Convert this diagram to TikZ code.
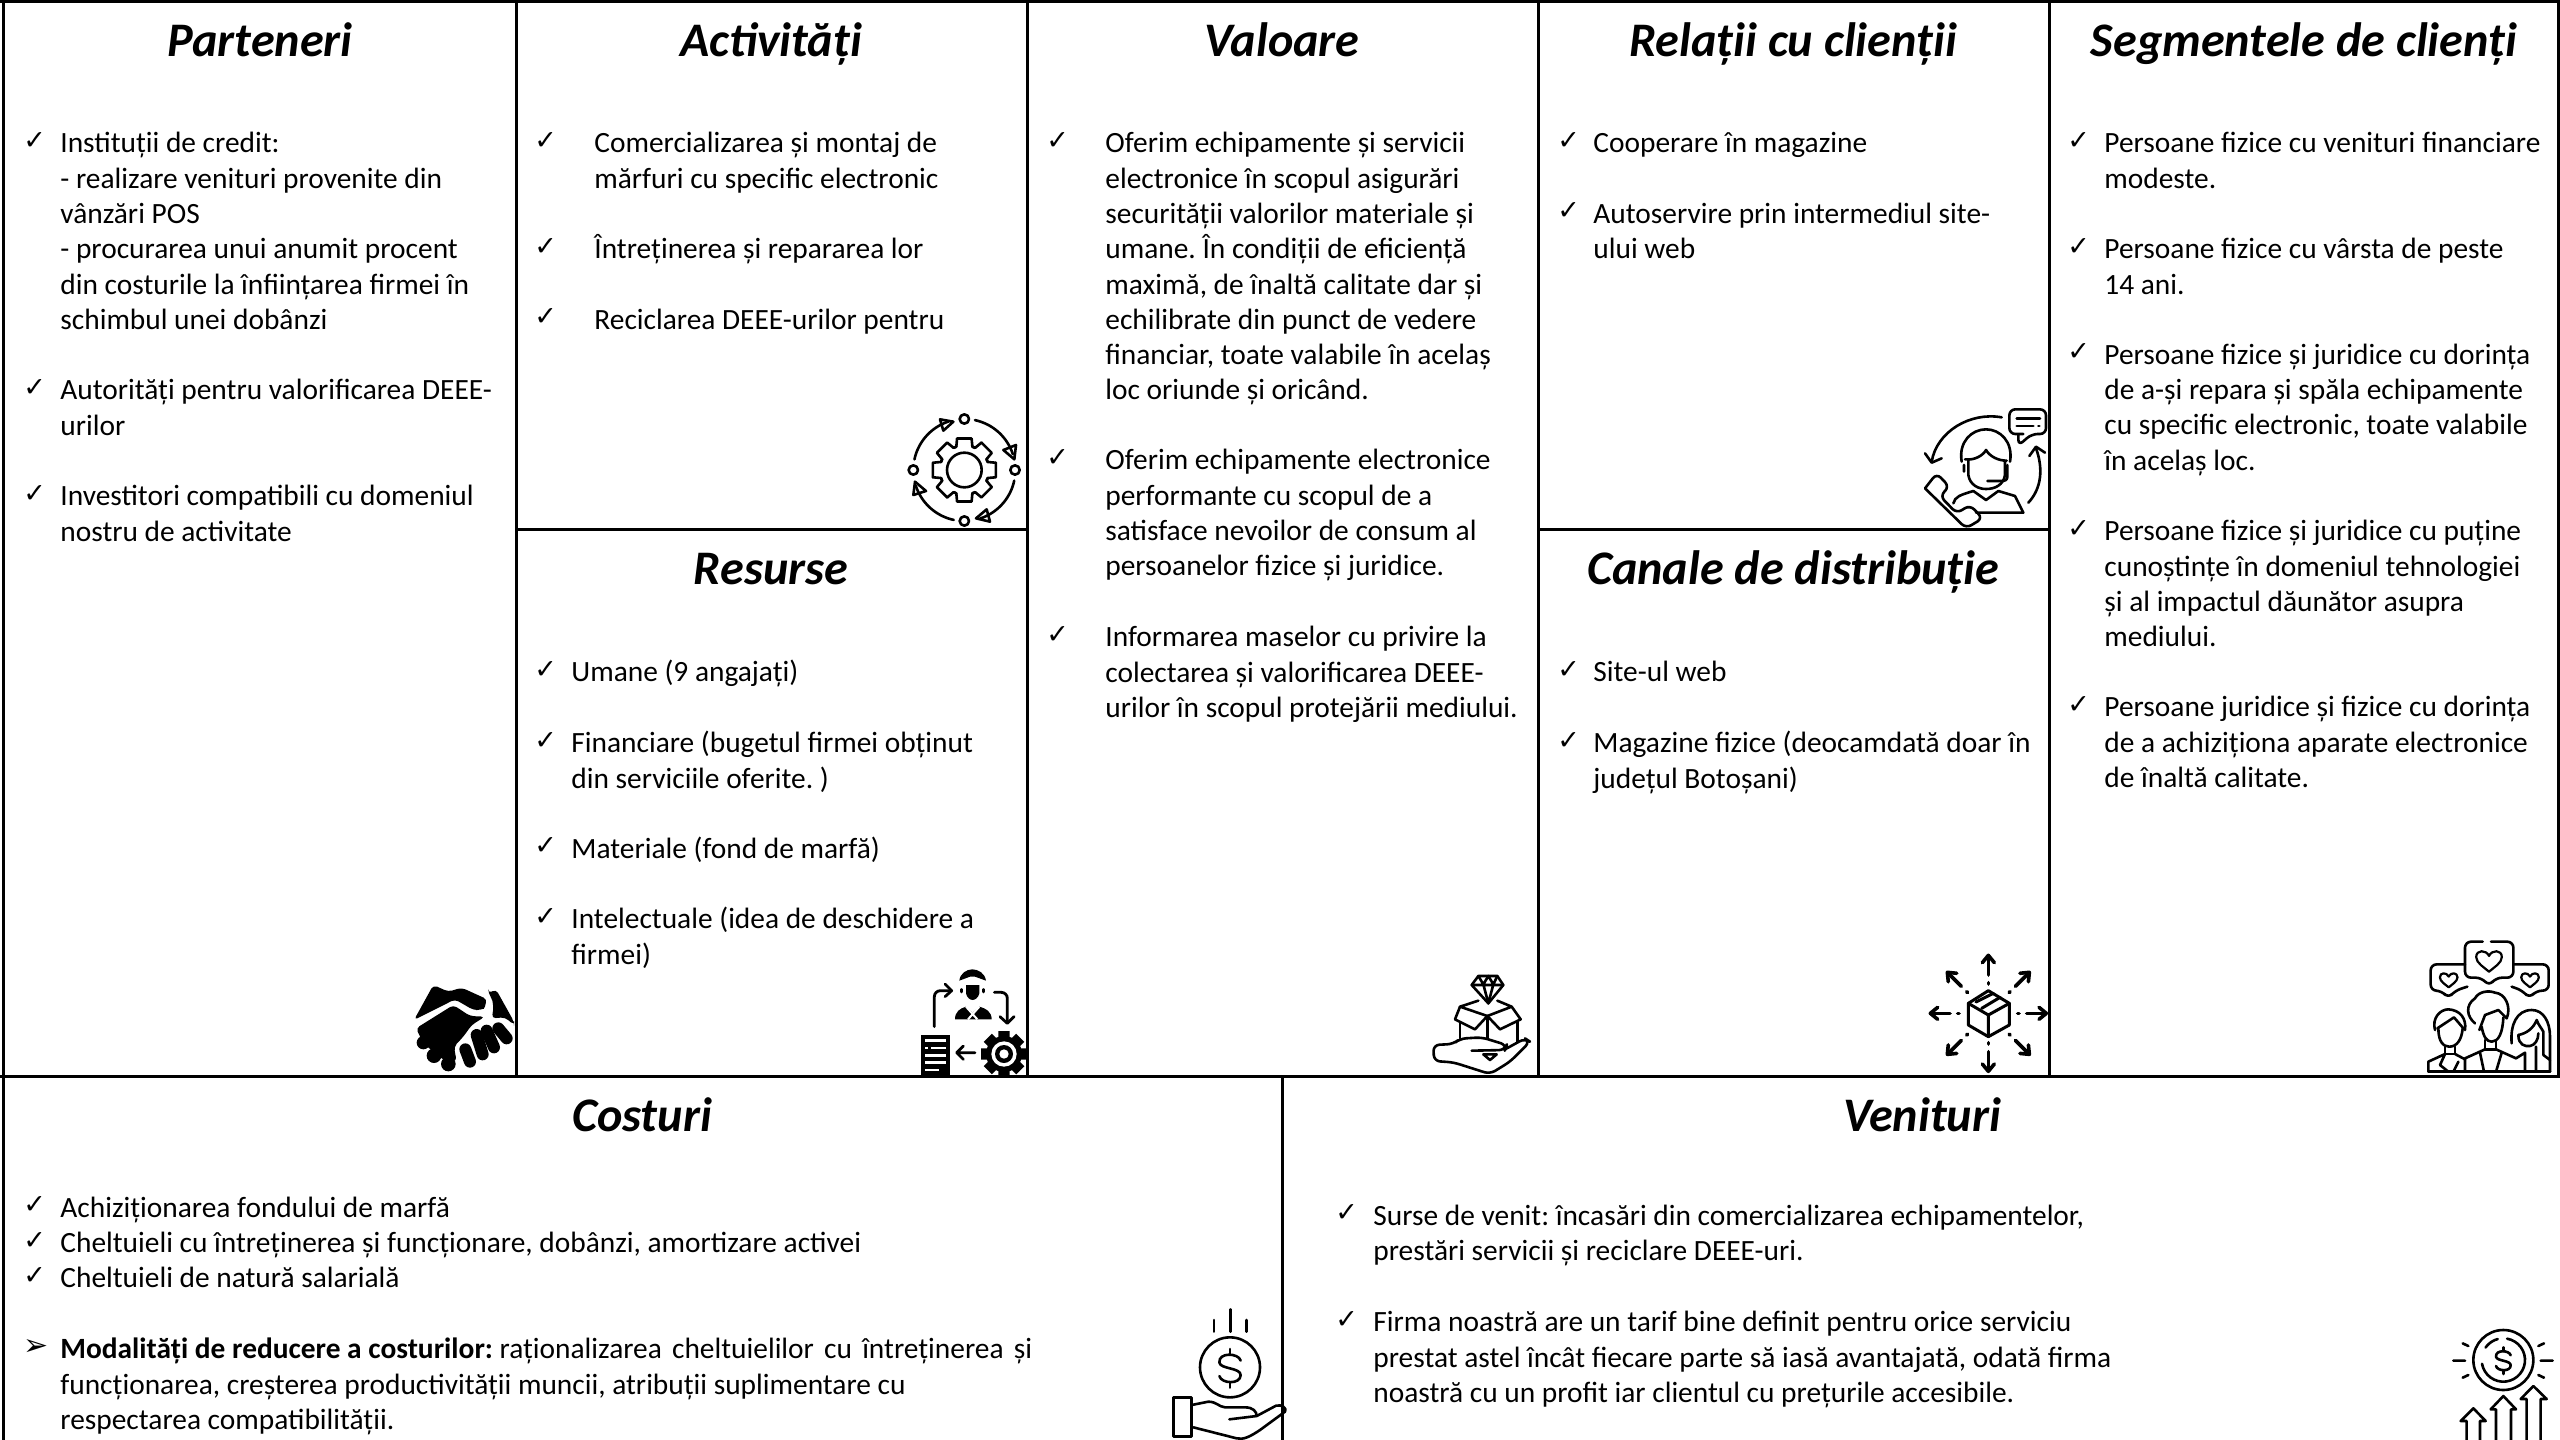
\documentclass[tikz,border=0pt]{standalone}
\usepackage{fontspec}
\setmainfont{Carlito}
\newfontfamily\symfont{DejaVu Sans}
\tikzset{
  px/.style={x=0.5pt,y=-0.5pt},
  grid line/.style={line width=1.5pt,draw=black},
  title/.style={inner sep=0pt,anchor=base,font=\fontsize{24.1}{29}\selectfont\bfseries\itshape},
  body/.style={inner sep=0pt,anchor=north west,align=left,font=\fontsize{14.7}{17.64}\selectfont\frenchspacing},
  chk/.style={inner sep=0pt,anchor=base west,font=\fontsize{13.5}{14}\symfont},
  arrowmark/.style={inner sep=0pt,anchor=base west,font=\fontsize{15}{16}\symfont},
  zoomat/.style 2 args={shift={(#1,#2)},x=0.16667pt,y=-0.16667pt},
  ic/.style={line width=1.3pt,line cap=round,line join=round,draw=black},
  icthin/.style={line width=1.1pt,line cap=round,line join=round,draw=black},
  icthick/.style={line width=1.8pt,line cap=round,line join=round,draw=black},
  finger/.style={line width=6pt,line cap=round},
}
% one bullet: name, x of the mark, x of the text, baseline of first line, lines
\newcommand\bul[6][chk]{%
  \node[#1] (#2m) at (#3-1,#5-4) {\symfont ✓};
  \node[body] (#2t) at (#4,#5-28.5) {\rule{0pt}{14pt}#6};
}
\newcommand\heart[3]{% cx cy size
  \draw[icthin] (#1,#2+#3) .. controls (#1-#3*0.4,#2+#3*0.65) and (#1-#3*1.1,#2+#3*0.25) .. (#1-#3*1.1,#2-#3*0.25)
   .. controls (#1-#3*1.1,#2-#3*0.9) and (#1-#3*0.25,#2-#3*0.9) .. (#1,#2-#3*0.35)
   .. controls (#1+#3*0.25,#2-#3*0.9) and (#1+#3*1.1,#2-#3*0.9) .. (#1+#3*1.1,#2-#3*0.25)
   .. controls (#1+#3*1.1,#2+#3*0.25) and (#1+#3*0.4,#2+#3*0.65) .. (#1,#2+#3) -- cycle;
}
\newcommand\ringarc[5]{\draw[ic] plot[domain=#4:#5,samples=24] ({#1+#3*cos(\x)},{#2+#3*sin(\x)});}
\newcommand\dollar[3]{% cx cy size
  \draw[ic] (#1+#3*0.55,#2-#3*0.4) .. controls (#1+#3*0.45,#2-#3*0.8) and (#1-#3*0.6,#2-#3*0.85) .. (#1-#3*0.55,#2-#3*0.3)
   .. controls (#1-#3*0.5,#2+#3*0.05) and (#1+#3*0.55,#2-#3*0.05) .. (#1+#3*0.55,#2+#3*0.35)
   .. controls (#1+#3*0.55,#2+#3*0.85) and (#1-#3*0.45,#2+#3*0.8) .. (#1-#3*0.55,#2+#3*0.4);
  \draw[ic] (#1,#2-#3) -- (#1,#2-#3*0.72) (#1,#2+#3*0.72) -- (#1,#2+#3);
}
\begin{document}
\begin{tikzpicture}[px]
\useasboundingbox (0,0) rectangle (2560,1440);
\fill[white] (0,0) rectangle (2560,1440);
% grid
\draw[grid line] (3,0) -- (3,1076);
\draw[grid line] (0,1) -- (2560,1);
\draw[grid line] (516,0) -- (516,1076);
\draw[grid line] (1027,0) -- (1027,1076);
\draw[grid line] (1538,0) -- (1538,1076);
\draw[grid line] (2049,0) -- (2049,1076);
\draw[grid line] (2558,0) -- (2558,1076);
\draw[grid line] (516,529) -- (1027,529);
\draw[grid line] (1538,529) -- (2049,529);
\draw[grid line] (0,1076) -- (2560,1076);
\draw[grid line] (3,1076) -- (3,1440);
\draw[grid line] (1282,1076) -- (1282,1440);
% titles
\node[title] (t1) at (260,56) {Parteneri};
\node[title] (t2) at (771,56) {Activități};
\node[title] (t3) at (1282,56) {Valoare};
\node[title] (t4) at (1793,56) {Relații cu clienții};
\node[title] (t5) at (2304,56) {Segmentele de clienți};
\node[title] (t6) at (771,584) {Resurse};
\node[title] (t7) at (1793,584) {Canale de distribuție};
\node[title] (t8) at (642,1131) {Costuri};
\node[title] (t9) at (1922,1131) {Venituri};
% Parteneri
\bul{pa}{24}{60}{153}{Instituții de credit:\\- realizare venituri provenite din\\vânzări POS\\- procurarea unui anumit procent\\din costurile la înființarea firmei în\\schimbul unei dobânzi}
\bul{pb}{24}{60}{400}{Autorități pentru valorificarea DEEE-\\urilor}
\bul{pc}{24}{60}{506}{Investitori compatibili cu domeniul\\nostru de activitate}
% Activitati
\bul{aa}{535}{594}{153}{Comercializarea și montaj de\\mărfuri cu specific electronic}
\bul{ab}{535}{594}{259}{Întreținerea și repararea lor}
\bul{ac}{535}{594}{329.5}{Reciclarea DEEE-urilor pentru}
% Resurse
\bul{ra}{535}{571}{682}{Umane (9 angajați)}
\bul{rb}{535}{571}{753}{Financiare (bugetul firmei obținut\\din serviciile oferite. )}
\bul{rc}{535}{571}{858.5}{Materiale (fond de marfă)}
\bul{rd}{535}{571}{929}{Intelectuale (idea de deschidere a\\firmei)}
% Valoare
\bul{va}{1047}{1105}{153}{Oferim echipamente și servicii\\electronice în scopul asigurări\\securității valorilor materiale și\\umane. În condiții de eficiență\\maximă, de înaltă calitate dar și\\echilibrate din punct de vedere\\financiar, toate valabile în acelaș\\loc oriunde și oricând.}
\bul{vb}{1047}{1105}{470}{Oferim echipamente electronice\\performante cu scopul de a\\satisface nevoilor de consum al\\persoanelor fizice și juridice.}
\bul{vc}{1047}{1105}{647}{Informarea maselor cu privire la\\colectarea și valorificarea DEEE-\\urilor în scopul protejării mediului.}
% Relatii
\bul{la}{1558}{1593}{153}{Cooperare în magazine}
\bul{lb}{1558}{1593}{223.5}{Autoservire prin intermediul site-\\ului web}
% Canale
\bul{ca}{1558}{1593}{682}{Site-ul web}
\bul{cb}{1558}{1593}{753}{Magazine fizice (deocamdată doar în\\județul Botoșani)}
% Segmente
\bul{sa}{2068}{2104}{153}{Persoane fizice cu venituri financiare\\modeste.}
\bul{sb}{2068}{2104}{259}{Persoane fizice cu vârsta de peste\\14 ani.}
\bul{sc}{2068}{2104}{364.5}{Persoane fizice și juridice cu dorința\\de a-și repara și spăla echipamente\\cu specific electronic, toate valabile\\în acelaș loc.}
\bul{sd}{2068}{2104}{541}{Persoane fizice și juridice cu puține\\cunoștințe în domeniul tehnologiei\\și al impactul dăunător asupra\\mediului.}
\bul{se}{2068}{2104}{717}{Persoane juridice și fizice cu dorința\\de a achiziționa aparate electronice\\de înaltă calitate.}
% Costuri
\bul{oa}{24}{60}{1217.5}{Achiziționarea fondului de marfă}
\bul{ob}{24}{60}{1253}{Cheltuieli cu întreținerea și funcționare, dobânzi, amortizare activei}
\bul{oc}{24}{60}{1288}{Cheltuieli de natură salarială}
\node[arrowmark] (odm) at (23,1355) {\symfont ➢};
\node[body] (odt) at (60,1330.5) {\rule{0pt}{14pt}\textbf{Modalități de reducere a costurilor:} {\spaceskip=5.1pt raționalizarea cheltuielilor cu întreținerea și}\\funcționarea, creșterea productivității muncii, atribuții suplimentare cu\\respectarea compatibilității.};
% Venituri
\bul{ea}{1336}{1373}{1225.5}{Surse de venit: încasări din comercializarea echipamentelor,\\prestări servicii și reciclare DEEE-uri.}
\bul{eb}{1336}{1373}{1332}{Firma noastră are un tarif bine definit pentru orice serviciu\\prestat astel încât fiecare parte să iasă avantajată, odată firma\\noastră cu un profit iar clientul cu prețurile accesibile.}

% --- icon: gear cycle (Activitati)
\begin{scope}[zoomat={880}{390}]
  \begin{scope}[shift={(253,240)}]
    \foreach \a in {0,45,...,315}
      {\draw[ic] (\a-13:97) -- (\a+13:97) -- (\a+19:74) -- (\a+26:74);}
    \foreach \a in {0,45,...,315}
      {\draw[ic] (\a-13:97) -- (\a-19:74) -- (\a-26:74);}
    \draw[ic] (0,0) circle[radius=52];
  \end{scope}
  \draw[ic] (253,87) circle[radius=14];
  \draw[ic] (405,240) circle[radius=14];
  \draw[ic] (253,393) circle[radius=14];
  \draw[ic] (100,240) circle[radius=14];
  \ringarc{253}{240}{153}{-78}{-18}
  \ringarc{253}{240}{153}{12}{72}
  \ringarc{253}{240}{153}{102}{162}
  \ringarc{253}{240}{153}{-168}{-108}
  \draw[ic] (370,180) -- (408,165) -- (403,208) -- cycle;
  \draw[ic] (330,395) -- (288,385) -- (320,358) -- cycle;
  \draw[ic] (100,315) -- (105,275) -- (138,303) -- cycle;
  \draw[ic] (180,88) -- (220,95) -- (190,122) -- cycle;
\end{scope}
% --- icon: headset person (Relatii)
\begin{scope}[zoomat={1890}{390}]
  \draw[ic,rounded corners=3pt] (400,132) -- (358,132) -- (358,58) -- (468,58) -- (468,132) -- (425,132) -- (385,167) -- (385,132);
  \draw[ic] (380,85) -- (450,85) (380,108) -- (430,108) (445,108) -- (448,108);
  \draw[ic] (335,82) .. controls (240,65) and (140,125) .. (125,215);
  \draw[ic] (105,190) -- (125,218) -- (155,205);
  \draw[ic] (415,338) .. controls (455,295) and (460,235) .. (438,175);
  \draw[ic] (418,198) -- (438,170) -- (465,188);
  \draw[ic] (215,215) .. controls (205,155) and (245,118) .. (288,118) .. controls (330,118) and (370,155) .. (360,215);
  \draw[ic] (225,208) .. controls (255,212) and (280,195) .. (288,180) .. controls (300,200) and (325,212) .. (350,212);
  \draw[ic] (235,210) -- (235,255) .. controls (240,285) and (265,297) .. (288,297) .. controls (315,297) and (340,285) .. (345,255) -- (345,215);
  \draw[ic] (222,225) -- (222,245) (352,225) -- (352,260) .. controls (352,270) and (345,273) .. (335,273) -- (292,273);
  \draw[ic] (190,340) .. controls (195,320) and (210,315) .. (250,303) -- (288,330) -- (325,303) -- (375,318) -- (400,368) -- (258,368);
  \draw[ic,rounded corners=3pt] (105,295) -- (140,250) -- (178,290) -- (150,318) -- (200,370) -- (240,345) -- (278,385) -- (228,415) -- (105,295);
\end{scope}
% --- icon: handshake (Parteneri)
\begin{scope}[zoomat={390}{960}]
  \fill[rounded corners=2pt] (72,180) -- (130,75) -- (175,95) -- (215,83) -- (292,118) .. controls (285,135) and (285,145) .. (270,150) -- (250,150) -- (195,118) -- cycle;
  \fill[rounded corners=2pt] (295,100) -- (318,88) -- (372,185) -- (372,195) -- (345,172) -- (305,175) .. controls (310,150) and (312,125) .. (295,100) -- cycle;
  \fill[rounded corners=2pt] (78,205) -- (190,135) -- (240,168) -- (285,170) -- (245,195) -- (220,230) -- (192,260) -- (200,305) -- (160,300) -- (100,250) -- cycle;
  \fill (100,248) circle[radius=20];
  \fill (132,287) circle[radius=22];
  \fill (175,312) circle[radius=22];
  \draw[finger] (226,268) -- (240,305);
  \draw[finger] (260,225) -- (278,283);
  \draw[finger] (290,212) -- (312,262);
  \draw[finger] (325,205) -- (350,235);
\end{scope}
% --- icon: staff cycle (Resurse)
\begin{scope}[zoomat={900}{960}]
  \fill (178,62) .. controls (180,40) and (200,28) .. (217,28) .. controls (235,28) and (255,40) .. (258,62) -- (225,50) -- (210,50) -- cycle;
  \fill (198,75) -- (238,75) -- (238,100) .. controls (236,112) and (225,120) .. (218,120) .. controls (210,120) and (200,112) .. (198,100) -- cycle;
  \fill (165,178) .. controls (165,155) and (180,145) .. (198,140) -- (218,158) -- (238,140) .. controls (258,145) and (275,155) .. (275,178) -- cycle;
  \draw[white,line width=1pt] (198,140) -- (232,178) (238,140) -- (204,178);
  \draw[icthick,line width=1.3pt] (185,88) -- (185,96) (250,88) -- (250,96);
  \draw[icthick,line width=1.4pt,rounded corners=3pt] (103,200) -- (103,92) -- (150,92);
  \draw[icthick,line width=1.4pt] (135,72) -- (155,92) -- (135,110);
  \draw[icthick,line width=1.4pt,rounded corners=3pt] (283,97) -- (322,97) -- (322,185);
  \draw[icthick,line width=1.4pt] (300,170) -- (322,190) -- (342,170);
  \draw[icthick,line width=1.4pt] (225,278) -- (172,278) (190,258) -- (170,278) (190,298) -- (170,278);
  \fill (63,226) rectangle (150,345);
  \fill[white] (76,238) rectangle (138,247);
  \fill[white] (92,260) rectangle (138,268);
  \fill[white] (76,260) rectangle (84,268);
  \fill[white] (76,282) rectangle (138,290);
  \fill[white] (76,304) rectangle (138,312);
  \fill[white] (76,326) rectangle (116,334);
  \begin{scope}[shift={(312,282)}]
    \foreach \a in {0,45,...,315}
      {\fill (\a-14:71) -- (\a+14:71) -- (\a+20:50) -- (\a-20:50) -- cycle;}
    \fill (0,0) circle[radius=54];
    \fill[white] (0,0) circle[radius=38];
    \fill (0,0) circle[radius=27];
    \fill[white] (0,0) circle[radius=14];
  \end{scope}
\end{scope}
% --- icon: gift with diamond (Valoare)
\begin{scope}[zoomat={1410}{960}]
  \draw[ic] (205,48) -- (262,48) -- (280,75) -- (235,130) -- (185,75) -- cycle;
  \draw[ic] (185,75) -- (280,75) (205,48) -- (220,73) -- (235,48) -- (250,73) -- (262,48) (220,73) -- (235,130) -- (250,73);
  \draw[ic] (205,122) -- (150,140) -- (232,168) -- (305,140) -- (262,122);
  \draw[ic] (150,140) -- (135,178) -- (195,208) -- (232,168) -- (270,208) -- (332,178) -- (305,140);
  \draw[ic] (150,190) -- (150,235) (322,185) -- (322,245) (232,168) -- (232,235);
  \draw[ic,rounded corners=3pt] (185,272) -- (285,270) -- (290,255) -- (215,232) -- (150,236) -- (130,252) -- (70,255) -- (72,303) -- (130,307) -- (240,342) -- (300,305) -- (360,245) -- (345,235) -- (285,268);
  \draw[ic] (220,283) -- (260,283) -- (240,300) -- cycle;
\end{scope}
% --- icon: package and arrows (Canale)
\begin{scope}[zoomat={1910}{940}]
  \draw[ic,line width=1.5pt] (235,152) -- (298,190) -- (298,255) -- (235,290) -- (175,255) -- (175,190) -- cycle;
  \draw[ic,line width=1.5pt] (175,190) -- (235,225) -- (298,190) (235,225) -- (235,290);
  \draw[ic,line width=1.5pt] (215,205) -- (270,172) (198,186) -- (250,160);
  \begin{scope}[shift={(235,220)}]
    \foreach \a in {0,45,...,315}
    {\begin{scope}[rotate=\a]
      \draw[icthick] (88,0) -- (92,0);
      \draw[icthick] (115,0) -- (168,0);
      \draw[icthick] (152,-18) -- (174,0) -- (152,18);
    \end{scope}}
  \end{scope}
\end{scope}
% --- icon: people and hearts (Segmente)
\begin{scope}[zoomat={2410}{930}]
  \draw[ic,rounded corners=3pt] (218,35) -- (165,35) -- (165,143) -- (215,143) -- (237,168) -- (258,143) -- (310,143) -- (310,35) -- (243,35);
  \draw[ic,rounded corners=3pt] (165,103) -- (62,103) -- (62,182) -- (95,182) -- (115,205) -- (135,182) -- (172,170);
  \draw[ic,rounded corners=3pt] (310,103) -- (416,103) -- (416,182) -- (378,182) -- (358,205) -- (338,182) -- (305,170);
  \heart{237}{90}{35}
  \heart{116}{148}{24}
  \heart{360}{148}{24}
  \draw[ic] (75,300) .. controls (65,265) and (90,238) .. (115,238) .. controls (150,240) and (170,265) .. (165,300);
  \draw[ic] (82,295) -- (132,262) -- (160,295);
  \draw[ic] (85,295) .. controls (85,335) and (100,350) .. (118,350) .. controls (140,350) and (155,330) .. (158,295);
  \draw[ic] (105,350) -- (105,372) -- (135,372) -- (135,350);
  \draw[ic] (55,425) -- (55,395) -- (105,372) -- (90,405) -- (115,425) (135,372) -- (165,388) (145,395) -- (130,425);
  \draw[ic] (195,280) .. controls (170,260) and (165,225) .. (195,205) .. controls (205,185) and (235,180) .. (255,188) .. controls (285,190) and (305,230) .. (290,265) -- (265,240) -- (225,255) -- (208,300);
  \draw[ic] (215,290) .. controls (220,320) and (230,335) .. (245,335) .. controls (265,335) and (278,310) .. (280,262);
  \draw[ic] (225,330) -- (225,358) -- (258,358) -- (258,330);
  \draw[ic] (165,425) -- (165,385) -- (225,358) (258,358) -- (318,385);
  \draw[ic] (210,368) -- (222,425) (275,368) -- (258,425);
  \draw[ic] (305,340) .. controls (300,285) and (320,240) .. (365,240) .. controls (400,240) and (420,275) .. (420,320) -- (420,425);
  \draw[ic] (325,315) .. controls (350,310) and (370,295) .. (380,270) .. controls (385,285) and (395,295) .. (400,305) -- (400,375);
  \draw[ic] (325,315) .. controls (325,345) and (345,350) .. (360,348) (385,310) .. controls (385,330) and (375,345) .. (360,348);
  \draw[ic] (318,385) -- (345,368) -- (345,425) (378,350) -- (378,425) (400,375) -- (420,390);
  \draw[ic] (55,425) -- (420,425);
\end{scope}
% --- icon: coin and hand (Costuri)
\begin{scope}[zoomat={1150}{1290}]
  \draw[ic] (192,90) -- (192,125) (241,58) -- (241,125) (290,90) -- (290,125);
  \draw[ic] (240,232) circle[radius=90];
  \dollar{240}{235}{58}
  \draw[ic] (70,322) -- (125,322) -- (125,440) -- (70,440) -- cycle;
  \draw[ic] (125,345) -- (175,335) .. controls (200,335) and (205,350) .. (225,352) -- (285,352) .. controls (310,352) and (320,365) .. (320,378) -- (238,388);
  \draw[ic] (320,378) -- (378,347) .. controls (395,342) and (412,355) .. (405,365) -- (330,420) .. controls (300,440) and (280,450) .. (260,445) -- (130,412);
\end{scope}
% --- icon: coin and growth arrows (Venituri)
\begin{scope}[zoomat={2430}{1310}]
  \draw[ic] (220,150) circle[radius=90];
  \ringarc{220}{150}{65}{-80}{170}
  \ringarc{220}{150}{65}{-145}{-105}
  \dollar{220}{152}{40}
  \draw[ic] (70,152) -- (105,152) (332,152) -- (368,152) (98,100) -- (115,108) (325,108) -- (342,100) (98,203) -- (115,195) (325,195) -- (342,203);
  \draw[ic] (110,390) -- (110,333) -- (92,333) -- (130,295) -- (167,333) -- (150,333) -- (150,390);
  \draw[ic] (198,390) -- (198,298) -- (182,298) -- (220,258) -- (258,298) -- (243,298) -- (243,390);
  \draw[ic] (290,390) -- (290,267) -- (272,267) -- (310,228) -- (350,267) -- (332,267) -- (332,390);
\end{scope}
\end{tikzpicture}
\end{document}
